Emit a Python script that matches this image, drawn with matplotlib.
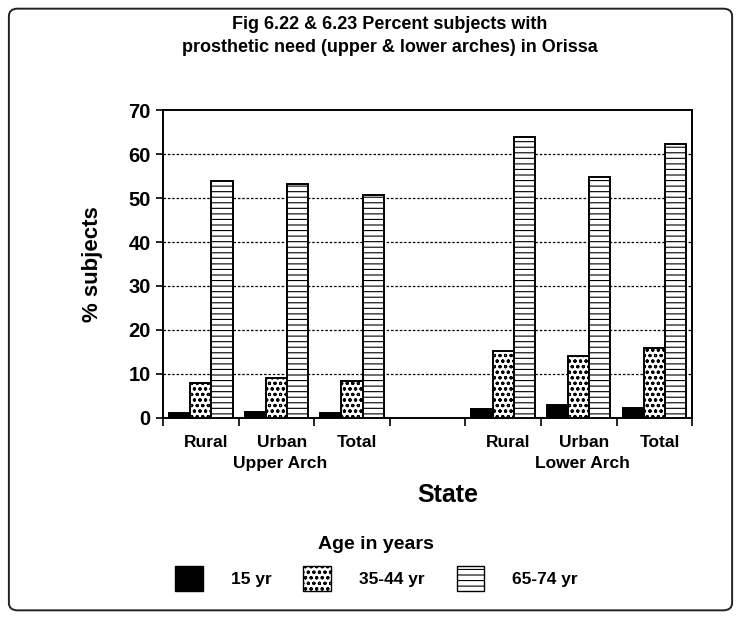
import numpy as np
import matplotlib
matplotlib.use('Agg')
import matplotlib.pyplot as plt
from matplotlib.patches import FancyBboxPatch, Patch

plt.rcParams['font.family'] = ['Liberation Sans', 'DejaVu Sans']
plt.rcParams['font.weight'] = 'bold'
plt.rcParams['hatch.linewidth'] = 0.8

# 数据
categories = ['Rural', 'Urban', 'Total', '', 'Rural', 'Urban', 'Total']
groups = ['Upper Arch', 'Lower Arch']
ages = ['15 yr', '35-44 yr', '65-74 yr']
yr15 = [1.2, 1.3, 1.1, None, 2.0, 3.0, 2.3]
yr35_44 = [8.0, 9.0, 8.4, None, 15.3, 14.1, 15.8]
yr65_74 = [53.9, 53.1, 50.8, None, 63.8, 54.7, 62.2]

fig = plt.figure(figsize=(7.41, 6.19), dpi=100)
ax = fig.add_axes([0.22, 0.325, 0.714, 0.497])

# 外框
frame = FancyBboxPatch((0.012, 0.014), 0.976, 0.972, boxstyle='round,pad=0,rounding_size=0.012',
                       transform=fig.transFigure, facecolor='white', edgecolor='#222222',
                       linewidth=1.4, zorder=-10)
fig.patches.append(frame)

x = np.arange(len(categories))
w = 0.28
styles = [dict(color='black', hatch=None), dict(color='white', hatch='ooo'), dict(color='white', hatch='---')]
series = [yr15, yr35_44, yr65_74]
for k, (vals, st) in enumerate(zip(series, styles)):
    xs = [xi for xi, v in zip(x, vals) if v is not None]
    vs = [v for v in vals if v is not None]
    ax.bar(np.array(xs) + (k - 1) * w, vs, width=w, facecolor=st['color'],
           edgecolor='black', hatch=st['hatch'], linewidth=1.4, zorder=3, label=ages[k])

ax.set_xlim(-0.5, 6.5)
ax.set_ylim(0, 70)
ax.set_yticks(range(0, 71, 10))
ax.tick_params(axis='y', labelsize=14.5, length=5, width=1.2, pad=4)
for v in range(10, 61, 10):
    ax.axhline(v, color='black', linestyle=(0, (2, 1.5)), linewidth=0.9, zorder=1)

ax.set_xticks(np.arange(-0.5, 7, 1))
ax.set_xticklabels([])
ax.tick_params(axis='x', length=6, width=1.2)
for sp in ax.spines.values():
    sp.set_linewidth(1.4)

# 类别标签
for xi, c in zip(x, categories):
    ax.text(xi + 0.07, -5.6, c, ha='center', va='center', fontsize=12.5)
ax.text(1.05, -10.3, groups[0], ha='center', va='center', fontsize=12.5)
ax.text(5.05, -10.3, groups[1], ha='center', va='center', fontsize=12.5)
ax.text(3.27, -17.5, 'State', ha='center', va='center', fontsize=18)

ax.set_ylabel('% subjects', fontsize=16, fontweight='bold', labelpad=18)

fig.text(0.526, 0.942, 'Fig 6.22 & 6.23 Percent subjects with\nprosthetic need (upper & lower arches) in Orissa',
         ha='center', va='center', fontsize=13, linespacing=1.4)

handles = [Patch(facecolor=s['color'], edgecolor='black', hatch=s['hatch'], linewidth=1.0) for s in styles]
leg = fig.legend(handles, ages, loc='center', bbox_to_anchor=(0.508, 0.09), ncol=3, frameon=False,
                 fontsize=12.5, title='Age in years', title_fontsize=14, handlelength=1.6,
                 handleheight=1.8, handletextpad=1.6, columnspacing=1.85)
leg.get_title().set_fontweight('bold')
leg._legend_box.sep = 9.5

fig.savefig('out.png', dpi=100)
